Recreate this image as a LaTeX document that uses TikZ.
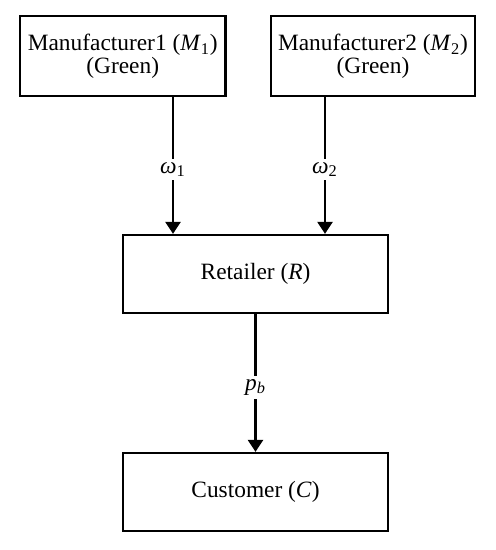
\documentclass[tikz,border=0pt]{standalone}
\usepackage{fontspec}
\setmainfont{Liberation Serif}
\usetikzlibrary{arrows.meta}

\tikzset{
    box/.style={draw, line width=1.3pt, align=center, inner sep=0pt},
    flow/.style={->, line width=1.4pt},
    lab/.style={fill=white, inner sep=2pt}
}

\begin{document}
\begin{tikzpicture}[>={Triangle[length=2.4mm, width=3.0mm]}, font=\fontsize{13.3}{12}\selectfont]
    \useasboundingbox (0, 0) rectangle (9.9, -11);

    % manufacturers
    \node[box, minimum width=4.11cm, minimum height=1.6cm] (m1) at (2.455, -1.12)
        {Manufacturer1 (\textit{M}\textsubscript{1})\\(Green)};
    \node[box, minimum width=4.08cm, minimum height=1.6cm] (m2) at (7.46, -1.12)
        {Manufacturer2 (\textit{M}\textsubscript{2})\\(Green)};

    % retailer and customer
    \node[box, minimum width=5.3cm, minimum height=1.56cm] (r) at (5.11, -5.48)
        {Retailer (\textit{R})};
    \node[box, minimum width=5.3cm, minimum height=1.56cm] (c) at (5.11, -9.84)
        {Customer (\textit{C})};

    % wholesale prices
    \draw[flow] ([xshift=1.005cm]m1.south) -- ([xshift=1.005cm]m1.south |- r.north)
        node[lab, pos=0.53] {\textit{ω}\textsubscript{1}};
    \draw[flow] ([xshift=-0.96cm]m2.south) -- ([xshift=-0.96cm]m2.south |- r.north)
        node[lab, pos=0.53] {\textit{ω}\textsubscript{2}};

    % retail price
    \draw[flow] (r.south) -- (c.north)
        node[lab, pos=0.53] {\textit{p}\textsubscript{\textit{b}}};
\end{tikzpicture}
\end{document}
